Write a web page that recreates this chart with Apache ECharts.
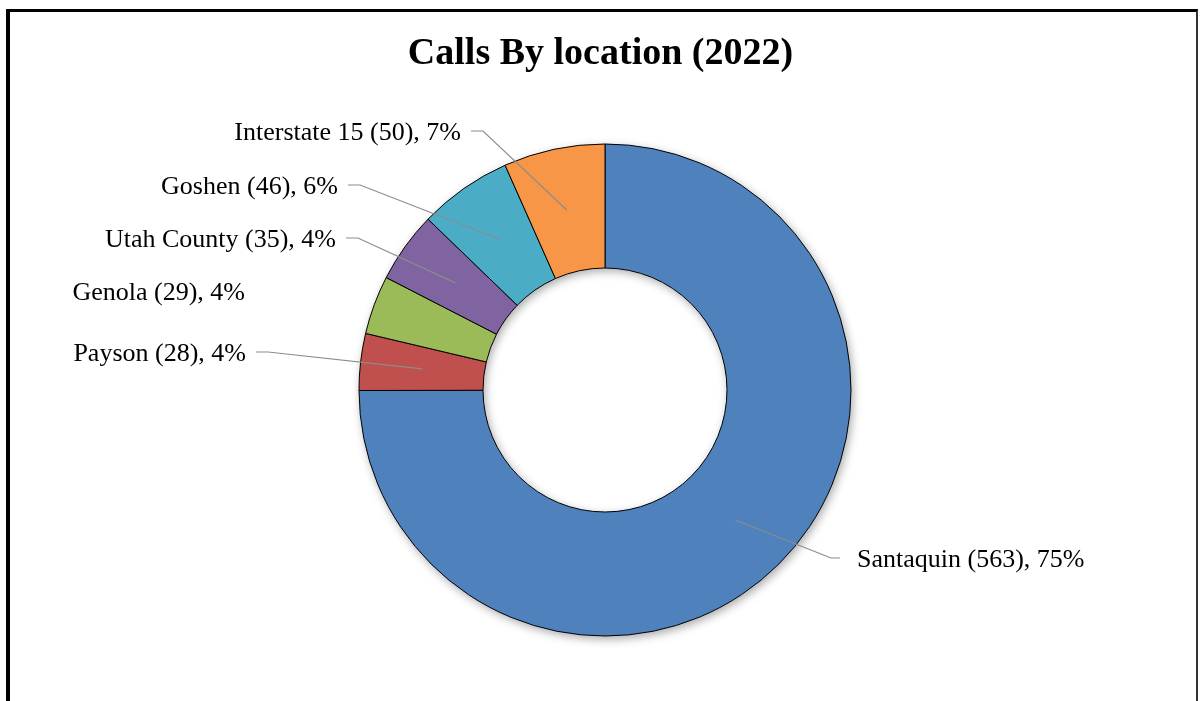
<!DOCTYPE html>
<html>
<head>
<meta charset="utf-8">
<title>Calls By location (2022)</title>
<script src="https://cdn.jsdelivr.net/npm/echarts@6/dist/echarts.min.js"></script>
<style>
    html, body { margin: 0; padding: 0; background: #fff; overflow: hidden; }
    #frame {
        position: absolute; left: 6px; top: 9px; width: 1186px; height: 760px;
        border-left: 4px solid #000; border-top: 3px solid #000; border-right: 2px solid #333;
    }
    #main { position: absolute; left: 0; top: 0; width: 1201px; height: 701px; }
</style>
</head>
<body>
<div id="frame"></div>
<div id="main"></div>
<script>
// 数据
var locations = ['Santaquin', 'Payson', 'Genola', 'Utah County', 'Goshen', 'Interstate 15'];
var calls = [563, 28, 29, 35, 46, 50];
var pctLabels = [75, 4, 4, 4, 6, 7]; // 图上显示的百分比
var colors = ['#4F81BD', '#C0504D', '#9BBB59', '#8064A2', '#4BACC6', '#F79646'];

// 标签位置 (文字端点 x, 中心 y)
var labelSpots = [
    {x: 857, y: 560, side: 'left'},
    {x: 246, y: 354, side: 'right'},
    {x: 245, y: 293, side: 'right', noLine: true},
    {x: 336, y: 240, side: 'right'},
    {x: 338, y: 187, side: 'right'},
    {x: 461, y: 133, side: 'right'}
];

var cx = 605, cy = 390, rIn = 122, rOut = 246;
var total = 0;
for (var i = 0; i < calls.length; i++) total += calls[i];

// 每块中间角度 (从12点顺时针)
var midAngles = [];
var acc = 0;
for (var i = 0; i < calls.length; i++) {
    midAngles.push((acc + calls[i] / 2) / total * Math.PI * 2);
    acc += calls[i];
}

var pieData = [];
for (var i = 0; i < locations.length; i++) {
    pieData.push({
        name: locations[i],
        value: calls[i],
        pct: pctLabels[i],
        itemStyle: {color: colors[i]}
    });
}

// 引导线: 从环中间到标签
var leaderLines = [];
for (var i = 0; i < labelSpots.length; i++) {
    var s = labelSpots[i];
    if (s.noLine) continue;
    var rMid = (rIn + rOut) / 2;
    var start = [cx + rMid * Math.sin(midAngles[i]), cy - rMid * Math.cos(midAngles[i])];
    var endX = s.side === 'right' ? s.x + 10 : s.x - 17;
    var elbowX = s.side === 'right' ? endX + 12 : endX - 9;
    var lineY = s.y - 2;
    leaderLines.push({
        type: 'polyline',
        z: 100,
        silent: true,
        shape: {points: [start, [elbowX, lineY], [endX, lineY]]},
        style: {stroke: '#8c8c8c', lineWidth: 1.2, fill: null}
    });
}

var myChart = echarts.init(document.getElementById('main'), null, {renderer: 'canvas'});

var option = {
    backgroundColor: 'transparent',
    title: {
        text: 'Calls By location (2022)',
        left: 'center',
        top: 30,
        textStyle: {fontFamily: 'Liberation Serif', fontSize: 38, fontWeight: 'bold', color: '#000'}
    },
    graphic: leaderLines,
    series: [
        {
            // 阴影底层
            type: 'pie',
            silent: true,
            center: [cx, cy],
            radius: [rIn, rOut],
            startAngle: 90,
            label: {show: false},
            labelLine: {show: false},
            itemStyle: {
                color: '#fff',
                shadowBlur: 10,
                shadowColor: 'rgba(0,0,0,0.35)',
                shadowOffsetX: 2,
                shadowOffsetY: 3
            },
            data: [{value: 1}]
        },
        {
            type: 'pie',
            center: [cx, cy],
            radius: [rIn, rOut],
            startAngle: 90,
            clockwise: true,
            avoidLabelOverlap: false,
            itemStyle: {borderColor: '#000', borderWidth: 1},
            emphasis: {disabled: true},
            label: {
                show: true,
                formatter: function (p) {
                    return p.name + ' (' + p.value + '), ' + p.data.pct + '%';
                },
                fontFamily: 'Liberation Serif',
                fontSize: 26,
                color: '#000'
            },
            labelLine: {show: false},
            labelLayout: function (params) {
                var s = labelSpots[params.dataIndex];
                return {
                    x: s.x,
                    y: s.y,
                    align: s.side,
                    verticalAlign: 'middle'
                };
            },
            data: pieData
        }
    ]
};

myChart.setOption(option);
</script>
</body>
</html>
